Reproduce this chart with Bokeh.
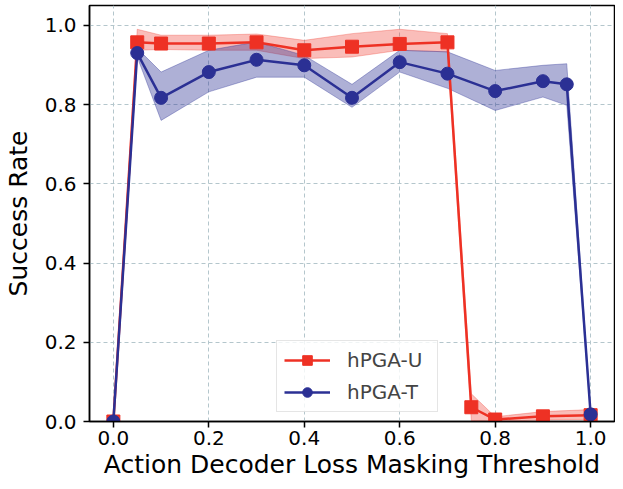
from bokeh.plotting import figure
from bokeh.models import Range1d, FixedTicker, PrintfTickFormatter
from bokeh.embed import file_html
from bokeh.resources import INLINE

# hPGA-U data
x_u = [0.0, 0.05, 0.1, 0.2, 0.3, 0.4, 0.5, 0.6, 0.7, 0.75, 0.8, 0.9, 1.0]
y_u = [0.0, 0.957, 0.954, 0.954, 0.957, 0.937, 0.946, 0.953, 0.957, 0.036, 0.005, 0.013, 0.016]
upper_u = [0.0, 0.99, 0.975, 0.975, 0.978, 0.962, 0.979, 0.99, 0.979, 0.07, 0.012, 0.025, 0.03]
lower_u = [0.0, 0.937, 0.939, 0.937, 0.937, 0.916, 0.92, 0.937, 0.933, 0.002, 0.0, 0.004, 0.005]

# hPGA-T data
x_t = [0.0, 0.05, 0.1, 0.2, 0.3, 0.4, 0.5, 0.6, 0.7, 0.8, 0.9, 0.95, 1.0]
y_t = [0.0, 0.930, 0.817, 0.882, 0.913, 0.899, 0.817, 0.907, 0.878, 0.834, 0.859, 0.851, 0.018]
upper_t = [0.0, 0.942, 0.882, 0.937, 0.958, 0.924, 0.851, 0.937, 0.933, 0.886, 0.899, 0.903, 0.021]
lower_t = [0.0, 0.920, 0.760, 0.832, 0.869, 0.869, 0.793, 0.882, 0.841, 0.785, 0.819, 0.798, 0.015]

x_ticks = [0.0, 0.2, 0.4, 0.6, 0.8, 1.0]
y_ticks = [0.0, 0.2, 0.4, 0.6, 0.8, 1.0]

RED = "#ee3124"
BLUE = "#2b3094"
FONT = "DejaVu Sans"

p = figure(width=615, height=481, output_backend="svg", toolbar_location=None,
           x_range=Range1d(-0.05, 1.05), y_range=Range1d(0.0, 1.05),
           min_border_left=88, min_border_right=1, min_border_top=5, min_border_bottom=60)

p.outline_line_color = "black"
p.outline_line_width = 1.5
p.background_fill_color = "white"

# grid
for g in (p.xgrid, p.ygrid):
    g.grid_line_color = "#b4c6cc"
    g.grid_line_dash = "4 3"
    g.grid_line_width = 1
p.xgrid.ticker = FixedTicker(ticks=x_ticks)
p.ygrid.ticker = FixedTicker(ticks=y_ticks)

# bands
p.varea(x=x_u, y1=lower_u, y2=upper_u, fill_color=RED, fill_alpha=0.32)
p.line(x_u, upper_u, line_color=RED, line_alpha=0.3, line_width=1)
p.line(x_u, lower_u, line_color=RED, line_alpha=0.3, line_width=1)
p.varea(x=x_t, y1=lower_t, y2=upper_t, fill_color=BLUE, fill_alpha=0.38)
p.line(x_t, upper_t, line_color=BLUE, line_alpha=0.35, line_width=1)
p.line(x_t, lower_t, line_color=BLUE, line_alpha=0.35, line_width=1)

# lines and markers
p.line(x_u, y_u, line_color=RED, line_width=2.5, legend_label="hPGA-U")
p.scatter(x_u, y_u, marker="square", size=13, fill_color=RED, line_color=RED, legend_label="hPGA-U")
p.line(x_t, y_t, line_color=BLUE, line_width=2.5, legend_label="hPGA-T")
p.scatter(x_t, y_t, marker="circle", size=13, fill_color=BLUE, line_color=BLUE, legend_label="hPGA-T")

# axes
p.xaxis.ticker = FixedTicker(ticks=x_ticks)
p.yaxis.ticker = FixedTicker(ticks=y_ticks)
p.xaxis.formatter = PrintfTickFormatter(format="%.1f")
p.yaxis.formatter = PrintfTickFormatter(format="%.1f")
p.xaxis.axis_label = "Action Decoder Loss Masking Threshold"
p.yaxis.axis_label = "Success Rate"
for ax in (p.xaxis, p.yaxis):
    ax.axis_line_color = "black"
    ax.axis_line_width = 1.5
    ax.major_tick_line_color = "black"
    ax.major_tick_line_width = 1.5
    ax.major_tick_out = 6
    ax.major_tick_in = 0
    ax.minor_tick_line_color = None
    ax.major_label_text_font = FONT
    ax.major_label_text_font_size = "20px"
    ax.major_label_text_color = "black"
    ax.axis_label_text_font = FONT
    ax.axis_label_text_font_size = "25px"
    ax.axis_label_text_font_style = "normal"
    ax.axis_label_text_color = "black"
p.xaxis.major_label_standoff = 3
p.yaxis.major_label_standoff = 7
p.xaxis.axis_label_standoff = 2
p.yaxis.axis_label_standoff = 9

# legend
lg = p.legend[0]
lg.location = (187, 9)
lg.label_text_font = FONT
lg.label_text_font_size = "20px"
lg.glyph_width = 46
lg.glyph_height = 24
lg.label_height = 24
lg.label_width = 83
lg.label_standoff = 17
lg.spacing = 8
lg.padding = 7
lg.margin = 0
lg.border_line_color = "#cccccc"
lg.border_line_width = 1.5
lg.background_fill_alpha = 0.8

open("out.html", "w").write(file_html(p, INLINE))
